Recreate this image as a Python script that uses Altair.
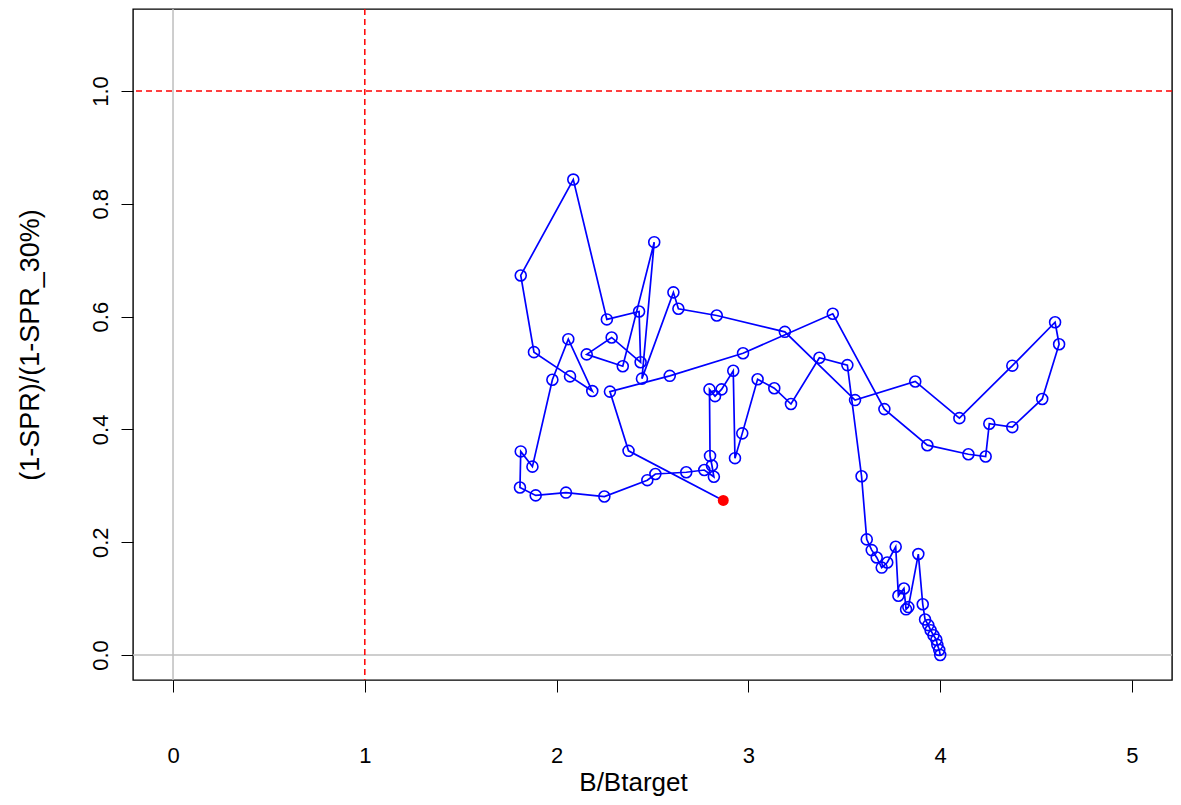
import altair as alt
import pandas as pd

# Trajectory (B/Btarget, (1-SPR)/(1-SPR_30%)) in time order; last point is the final year
bx = [4.000, 3.995, 3.985, 3.980, 3.965, 3.950, 3.938, 3.921, 3.909, 3.886,
      3.834, 3.822, 3.811, 3.782, 3.768, 3.724, 3.695, 3.669, 3.643, 3.617,
      3.590, 3.516, 3.370, 3.222, 3.135, 3.048, 2.968, 2.930, 2.921, 2.860,
      2.826, 2.797, 2.800, 2.810, 2.820, 2.770, 2.676, 2.515, 2.473, 2.249,
      2.049, 1.891, 1.809, 1.813, 1.874, 1.978, 2.061, 2.186, 2.070, 1.882,
      1.813, 2.087, 2.262, 2.430, 2.438, 2.287, 2.157, 2.345, 2.509, 2.445,
      2.609, 2.635, 2.835, 3.190, 3.556, 3.870, 4.100, 4.376, 4.599, 4.620,
      4.532, 4.376, 4.256, 4.237, 4.147, 3.933, 3.709, 3.440, 2.972, 2.590,
      2.278, 2.375, 2.869]
fy = [0.000, 0.009, 0.018, 0.027, 0.035, 0.044, 0.053, 0.063, 0.090, 0.179,
      0.085, 0.081, 0.118, 0.105, 0.192, 0.164, 0.155, 0.173, 0.186, 0.205,
      0.317, 0.514, 0.527, 0.445, 0.473, 0.489, 0.393, 0.349, 0.504, 0.471,
      0.459, 0.471, 0.353, 0.336, 0.316, 0.328, 0.324, 0.321, 0.310, 0.281,
      0.288, 0.283, 0.297, 0.361, 0.334, 0.488, 0.560, 0.468, 0.494, 0.537,
      0.673, 0.843, 0.595, 0.609, 0.519, 0.563, 0.533, 0.512, 0.732, 0.490,
      0.643, 0.614, 0.602, 0.573, 0.452, 0.485, 0.420, 0.513, 0.590, 0.551,
      0.454, 0.404, 0.410, 0.352, 0.356, 0.372, 0.436, 0.605, 0.535, 0.495,
      0.467, 0.362, 0.274]

x_ticks = [0, 1, 2, 3, 4, 5]
y_ticks = [0.0, 0.2, 0.4, 0.6, 0.8, 1.0]
ref_target = 1.0
ref_zero = 0.0

df = pd.DataFrame({"x": bx, "y": fy, "i": list(range(len(bx)))})
df_open = df.iloc[:-1]
df_last = df.iloc[-1:]

FONT = "Liberation Sans"
X_DOM = [-0.2086, 5.2086]
Y_DOM = [-0.0443, 1.1454]

xs = alt.Scale(domain=X_DOM, nice=False, zero=False)
ys = alt.Scale(domain=Y_DOM, nice=False, zero=False)

xax = alt.Axis(values=x_ticks, format="d", grid=False, domain=False,
               tickSize=12, tickColor="black", tickWidth=1,
               labelFontSize=22, labelFont=FONT, labelColor="black",
               labelBaseline="middle", labelPadding=63,
               title="B/Btarget", titleFont=FONT, titleFontSize=26,
               titleFontWeight="normal", titleColor="black",
               titleBaseline="alphabetic", titleAlign="center",
               titleX=500, titleY=110)
yax = alt.Axis(values=y_ticks, format=".1f", grid=False, domain=False,
               tickSize=12, tickColor="black", tickWidth=1,
               labelFontSize=22, labelFont=FONT, labelColor="black",
               labelAngle=-90, labelAlign="center", labelBaseline="middle",
               labelPadding=21,
               title="(1-SPR)/(1-SPR_30%)", titleFont=FONT, titleFontSize=27,
               titleFontWeight="normal", titleColor="black",
               titleAngle=-90, titleBaseline="middle", titleX=-103)

base = alt.Chart(df)

line = base.mark_line(color="#0000FF", strokeWidth=1.7).encode(
    x=alt.X("x:Q", scale=xs, axis=xax),
    y=alt.Y("y:Q", scale=ys, axis=yax),
    order="i:Q",
)

pts = alt.Chart(df_open).mark_point(shape="circle", filled=False, color="#0000FF",
                                    size=120, strokeWidth=1.6, opacity=1).encode(
    x=alt.X("x:Q", scale=xs), y=alt.Y("y:Q", scale=ys))

last = alt.Chart(df_last).mark_point(shape="circle", filled=True, color="#FF0000",
                                     size=120, opacity=1).encode(
    x=alt.X("x:Q", scale=xs), y=alt.Y("y:Q", scale=ys))

gray_v = alt.Chart(df_last).mark_rule(color="#BEBEBE", strokeWidth=1.5).encode(x=alt.datum(ref_zero))
gray_h = alt.Chart(df_last).mark_rule(color="#BEBEBE", strokeWidth=1.5).encode(y=alt.datum(ref_zero))
red_v = alt.Chart(df_last).mark_rule(color="#FF0000", strokeWidth=1.5, strokeDash=[6, 4]).encode(x=alt.datum(ref_target))
red_h = alt.Chart(df_last).mark_rule(color="#FF0000", strokeWidth=1.5, strokeDash=[6, 4]).encode(y=alt.datum(ref_target))

chart = alt.layer(gray_v, gray_h, red_v, red_h, line, pts, last).properties(
    width=1039, height=671,
    autosize=alt.AutoSizeParams(type="none"),
    padding={"left": 125, "top": 1, "right": 1, "bottom": 117},
).configure(background="white").configure_view(stroke="black", strokeWidth=1.4)

chart.save("out.html", embed_options={"renderer": "svg", "actions": False})
